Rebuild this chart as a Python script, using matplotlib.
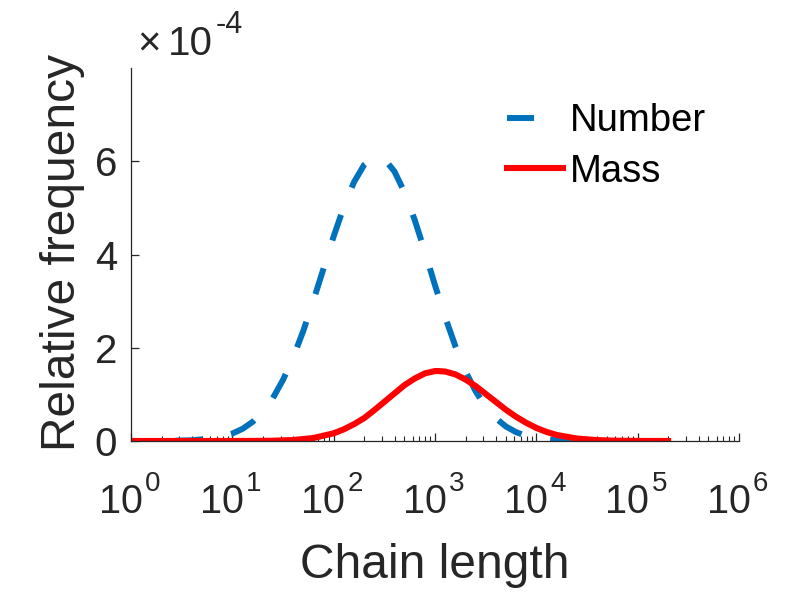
import matplotlib
matplotlib.use("Agg")
import matplotlib.pyplot as plt
import matplotlib.transforms as mtransforms
import numpy as np
from matplotlib.ticker import LogLocator, NullFormatter, FixedLocator

plt.rcParams['font.family'] = ['Liberation Sans', 'DejaVu Sans']
plt.rcParams['lines.scale_dashes'] = False

# chain length as log10 values, frequencies in units of 1e-4
number_log_len = [0.0, 0.2, 0.4, 0.6, 0.8, 0.9, 1.0, 1.1, 1.2, 1.3, 1.4, 1.5, 1.6, 1.7,
                  1.8, 1.9, 2.0, 2.1, 2.2, 2.3, 2.4, 2.45, 2.5, 2.6, 2.7, 2.8, 2.9, 3.0,
                  3.1, 3.2, 3.3, 3.4, 3.5, 3.6, 3.7, 3.8, 3.9, 4.0, 4.2, 4.4, 4.6, 4.8,
                  5.0, 5.3]
number_freq = [0.0, 0.001, 0.004, 0.016, 0.054, 0.094, 0.16, 0.26, 0.41, 0.63, 0.92,
               1.31, 1.79, 2.36, 3.01, 3.70, 4.39, 5.02, 5.55, 5.92, 6.09, 6.10, 6.05,
               5.78, 5.33, 4.74, 4.06, 3.34, 2.66, 2.04, 1.50, 1.07, 0.73, 0.49, 0.31,
               0.19, 0.11, 0.064, 0.018, 0.005, 0.001, 0.0, 0.0, 0.0]

mass_log_len = [0.0, 1.0, 1.2, 1.4, 1.6, 1.8, 2.0, 2.1, 2.2, 2.3, 2.4, 2.5, 2.6, 2.7,
                2.8, 2.9, 3.0, 3.03, 3.1, 3.2, 3.3, 3.4, 3.5, 3.6, 3.7, 3.8, 3.9, 4.0,
                4.1, 4.2, 4.4, 4.6, 4.8, 5.0, 5.3]
mass_freq = [0.0, 0.0003, 0.0014, 0.006, 0.021, 0.064, 0.165, 0.25, 0.36, 0.49, 0.66,
             0.84, 1.02, 1.20, 1.34, 1.45, 1.50, 1.50, 1.49, 1.43, 1.32, 1.18, 1.01,
             0.84, 0.67, 0.52, 0.39, 0.28, 0.195, 0.13, 0.053, 0.019, 0.006, 0.0015, 0.0]

x_decades = [0, 1, 2, 3, 4, 5, 6]
y_ticks = [0, 2, 4, 6]

number_len = 10 ** np.array(number_log_len)
mass_len = 10 ** np.array(mass_log_len)

ink = '#262626'
W, H = 810, 593
fig = plt.figure(figsize=(8.1, 5.93), dpi=100)
ax = fig.add_axes([131 / W, 1 - 441 / H, 608 / W, 373 / H])

ax.plot(number_len, number_freq, color='#0072BD', lw=4.3, linestyle=(8.5, (19.5, 21)),
        label='Number', dash_capstyle='butt')
ax.plot(mass_len, mass_freq, color='#FF0000', lw=4.4, label='Mass')

ax.set_xscale('log')
ax.set_xlim(1, 1e6)
ax.set_ylim(0, 8)
ax.xaxis.set_major_locator(LogLocator(base=10, numticks=10))
ax.xaxis.set_minor_locator(LogLocator(base=10, subs=np.arange(2, 10), numticks=20))
ax.xaxis.set_major_formatter(NullFormatter())
ax.xaxis.set_minor_formatter(NullFormatter())
ax.yaxis.set_major_locator(FixedLocator(y_ticks))

for s in ['top', 'right']:
    ax.spines[s].set_visible(False)
for s in ['left', 'bottom']:
    ax.spines[s].set_color(ink)
    ax.spines[s].set_linewidth(0.9)

ax.tick_params(axis='both', which='both', direction='in', colors=ink, labelsize=29)
ax.tick_params(axis='x', which='major', length=6, width=0.9)
ax.tick_params(axis='x', which='minor', length=3.5, width=0.8)
ax.tick_params(axis='y', which='major', length=6, width=0.9, pad=10)

# x tick labels 10^n drawn like MATLAB, with a larger raised exponent
blend = mtransforms.blended_transform_factory(ax.transData, fig.transFigure)
base_tr = mtransforms.offset_copy(blend, fig=fig, x=11.5, y=0, units='dots')
sup_tr = mtransforms.offset_copy(blend, fig=fig, x=14, y=0, units='dots')
for d in x_decades:
    ax.text(10.0 ** d, 1 - 513 / H, '10', transform=base_tr, fontsize=28.5, color=ink,
            ha='right', va='baseline', clip_on=False)
    ax.text(10.0 ** d, 1 - 491 / H, str(d), transform=sup_tr, fontsize=20, color=ink,
            ha='left', va='baseline', clip_on=False)

ax.set_xlabel('Chain length', fontsize=34.5, color=ink)
ax.xaxis.label.set_va('baseline')
ax.xaxis.set_label_coords(0.5, (441 - 578) / 373)

ax.set_ylabel('Relative frequency', fontsize=34.5, color=ink)
ax.yaxis.label.set_rotation_mode('anchor')
ax.yaxis.label.set_va('baseline')
ax.yaxis.label.set_ha('center')
ax.yaxis.set_label_coords((75 - 131) / 608, (441 - 252.5) / 373)

# exponent marker at the top of the y axis
fig.text(137 / W, 1 - 55 / H, '\u00d7', fontsize=29, color=ink, ha='left', va='baseline')
fig.text(168 / W, 1 - 55 / H, '10', fontsize=29, color=ink, ha='left', va='baseline')
fig.text(216 / W, 1 - 33 / H, '-4', fontsize=22, color=ink, ha='left', va='baseline')

leg = ax.legend(loc='upper left', bbox_to_anchor=(507 / W, 1 - 103 / H),
                bbox_transform=fig.transFigure, frameon=False, fontsize=27.5,
                handlelength=1.47, handletextpad=0.18, labelspacing=0.38,
                borderpad=0, borderaxespad=0)
leg.get_lines()[0].set_linestyle((0, (19.5, 21)))
for t in leg.get_texts():
    t.set_color('black')

fig.savefig('out.png', dpi=100)
